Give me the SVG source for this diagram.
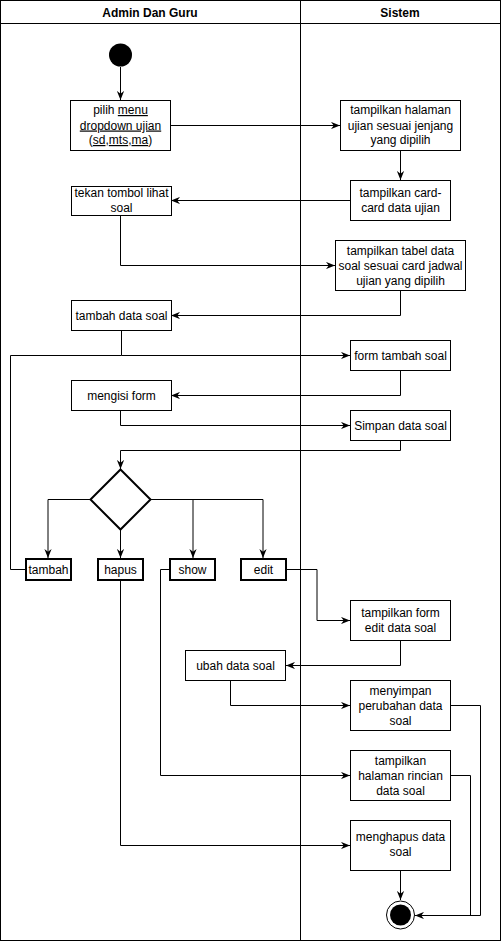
<svg xmlns="http://www.w3.org/2000/svg" width="501" height="941" viewBox="0 0 501 941">
<style>
text{font-family:"Liberation Sans",Arial,sans-serif;font-size:12px;fill:#000;text-anchor:middle}
.h{font-weight:bold}
.box{fill:#fff;stroke:#000;stroke-width:1}
.sb{fill:#fff;stroke:#000;stroke-width:2}
.ln{fill:none;stroke:#000;stroke-width:1}
.u{text-decoration:underline}
</style>
<defs>
<marker id="ar" viewBox="0 0 10 8" refX="10" refY="4" markerWidth="9" markerHeight="7.2" markerUnits="userSpaceOnUse" orient="auto">
<path d="M0,0 L10,4 L0,8 L3,4 Z" fill="#000"/>
</marker>
</defs>
<rect x="0" y="0" width="501" height="941" fill="#fff"/>
<g id="pool">
<rect x="0.5" y="0.5" width="500" height="940" fill="none" stroke="#000"/>
<line x1="0.5" y1="23.5" x2="500.5" y2="23.5" stroke="#000"/>
<line x1="300.5" y1="0.5" x2="300.5" y2="940.5" stroke="#000"/>
<text class="h" x="150" y="17">Admin Dan Guru</text>
<text class="h" x="400" y="17">Sistem</text>
</g>
<g id="connectors">
<path class="ln" d="M120.5,67 V100" marker-end="url(#ar)"/>
<path class="ln" d="M170,125.5 H340" marker-end="url(#ar)"/>
<path class="ln" d="M400.5,150 V180" marker-end="url(#ar)"/>
<path class="ln" d="M350,200.5 H171" marker-end="url(#ar)"/>
<path class="ln" d="M120.5,215 V265.5 H335" marker-end="url(#ar)"/>
<path class="ln" d="M400.5,290 V315.5 H171" marker-end="url(#ar)"/>
<path class="ln" d="M121.5,330 V355.5 H350" marker-end="url(#ar)"/>
<path class="ln" d="M25,569.5 H10.5 V355.5 H121.5"/>
<path class="ln" d="M400.5,370 V395.5 H171" marker-end="url(#ar)"/>
<path class="ln" d="M120.5,410 V425.5 H350" marker-end="url(#ar)"/>
<path class="ln" d="M400.5,440 V450.5 H120.5 V469" marker-end="url(#ar)"/>
<path class="ln" d="M90,499.5 H48 V558" marker-end="url(#ar)"/>
<path class="ln" d="M120.5,529 V558" marker-end="url(#ar)"/>
<path class="ln" d="M150,499.5 H263 V558" marker-end="url(#ar)"/>
<path class="ln" d="M193,499.5 V558" marker-end="url(#ar)"/>
<path class="ln" d="M286,569.5 H317 V620.5 H350" marker-end="url(#ar)"/>
<path class="ln" d="M400.5,640 V665.5 H286" marker-end="url(#ar)"/>
<path class="ln" d="M230.5,680 V705.5 H350" marker-end="url(#ar)"/>
<path class="ln" d="M169,569.5 H160.5 V775.5 H350" marker-end="url(#ar)"/>
<path class="ln" d="M120.5,580 V845.5 H350" marker-end="url(#ar)"/>
<path class="ln" d="M400.5,870 V900" marker-end="url(#ar)"/>
<path class="ln" d="M450,705.5 H480.5 V915.5 H415" marker-end="url(#ar)"/>
<path class="ln" d="M450,775.5 H470.5 V915.5"/>
</g>
<g id="start"><circle cx="120.5" cy="55" r="11.5" fill="#000"/></g>
<g id="pilihMenu">
<rect class="box" x="70.5" y="100.5" width="100" height="50"/>
<text x="120.5" y="114">pilih <tspan class="u">menu </tspan></text>
<text x="120.5" y="129.5"><tspan class="u">dropdown ujian</tspan></text>
<text x="120.5" y="144">(<tspan class="u">sd</tspan>,<tspan class="u">mts</tspan>,<tspan class="u">ma</tspan>)</text>
</g>
<g id="tampilHalaman">
<rect class="box" x="340.5" y="100.5" width="120" height="50"/>
<text x="400.5" y="114">tampilkan halaman</text>
<text x="400.5" y="129.5">ujian sesuai jenjang</text>
<text x="400.5" y="144">yang dipilih</text>
</g>
<g id="tampilCard">
<rect class="box" x="350.5" y="180.5" width="100" height="40"/>
<text x="400.5" y="197">tampilkan card-</text>
<text x="400.5" y="212">card data ujian</text>
</g>
<g id="tekanTombol">
<rect class="box" x="71.5" y="186.5" width="100" height="29"/>
<text x="121.5" y="197">tekan tombol lihat</text>
<text x="121.5" y="212">soal</text>
</g>
<g id="tampilTabel">
<rect class="box" x="335.5" y="240.5" width="130" height="50"/>
<text x="400.5" y="254.5">tampilkan tabel data</text>
<text x="400.5" y="269.5">soal sesuai card jadwal</text>
<text x="400.5" y="284.5">ujian yang dipilih</text>
</g>
<g id="tambahData">
<rect class="box" x="71.5" y="300.5" width="100" height="30"/>
<text x="121.5" y="320">tambah data soal</text>
</g>
<g id="formTambah">
<rect class="box" x="350.5" y="340.5" width="100" height="30"/>
<text x="400.5" y="360">form tambah soal</text>
</g>
<g id="mengisiForm">
<rect class="box" x="71.5" y="380.5" width="100" height="30"/>
<text x="121.5" y="400">mengisi form</text>
</g>
<g id="simpanData">
<rect class="box" x="350.5" y="410.5" width="100" height="30"/>
<text x="400.5" y="430">Simpan data soal</text>
</g>
<g id="decision">
<path d="M120.5,469.5 L150.5,499.5 L120.5,529.5 L90.5,499.5 Z" fill="#fff" stroke="#000" stroke-width="2"/>
</g>
<g id="tambah">
<rect class="sb" x="26" y="559" width="45" height="21"/>
<text x="48.5" y="574">tambah</text>
</g>
<g id="hapus">
<rect class="sb" x="98" y="559" width="45" height="21"/>
<text x="120.5" y="574">hapus</text>
</g>
<g id="show">
<rect class="sb" x="170" y="559" width="45" height="21"/>
<text x="192.5" y="574">show</text>
</g>
<g id="edit">
<rect class="sb" x="241" y="559" width="45" height="21"/>
<text x="263.5" y="574">edit</text>
</g>
<g id="tampilFormEdit">
<rect class="box" x="350.5" y="600.5" width="100" height="40"/>
<text x="400.5" y="617">tampilkan form</text>
<text x="400.5" y="632">edit data soal</text>
</g>
<g id="ubahData">
<rect class="box" x="185.5" y="650.5" width="100" height="30"/>
<text x="235.5" y="670">ubah data soal</text>
</g>
<g id="menyimpan">
<rect class="box" x="350.5" y="680.5" width="100" height="50"/>
<text x="400.5" y="694.5">menyimpan</text>
<text x="400.5" y="709.5">perubahan data</text>
<text x="400.5" y="724.5">soal</text>
</g>
<g id="rincian">
<rect class="box" x="350.5" y="750.5" width="100" height="50"/>
<text x="400.5" y="764.5">tampilkan</text>
<text x="400.5" y="779.5">halaman rincian</text>
<text x="400.5" y="794.5">data soal</text>
</g>
<g id="menghapus">
<rect class="box" x="350.5" y="820.5" width="100" height="50"/>
<text x="400.5" y="841">menghapus data</text>
<text x="400.5" y="856">soal</text>
</g>
<g id="end">
<circle cx="400.5" cy="915" r="14" fill="#fff" stroke="#000"/>
<circle cx="400.5" cy="915" r="10.5" fill="#000"/>
</g>
</svg>
